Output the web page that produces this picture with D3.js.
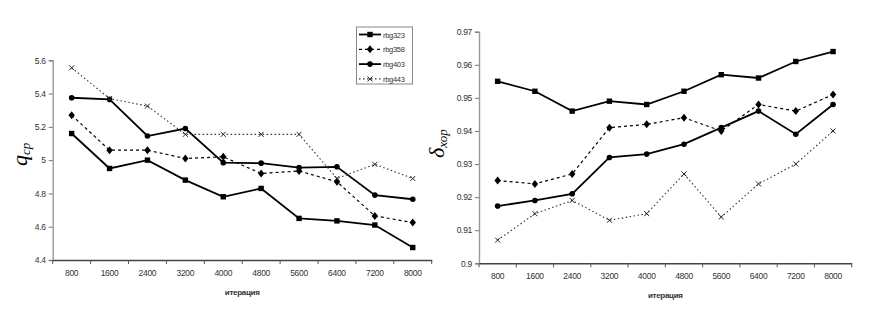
<!DOCTYPE html>
<html><head><meta charset="utf-8">
<script src="https://cdn.jsdelivr.net/npm/d3@7"></script>
<style>body{margin:0;background:#fff}svg{display:block}</style>
</head><body>
<svg id="c" width="872" height="327"></svg>
<script>
const categories = ["800","1600","2400","3200","4000","4800","5600","6400","7200","8000"];
const seriesNames = ["rbg323","rbg358","rbg403","rbg443"];
// left chart: q_ср
const qRbg323 = [5.16,4.95,5.00,4.88,4.78,4.83,4.65,4.635,4.61,4.475];
const qRbg358 = [5.27,5.06,5.06,5.01,5.02,4.92,4.935,4.87,4.665,4.625];
const qRbg403 = [5.375,5.365,5.145,5.19,4.985,4.982,4.955,4.96,4.79,4.765];
const qRbg443 = [5.555,5.37,5.325,5.155,5.155,5.155,5.155,4.89,4.975,4.89];
const qTicks = [4.4,4.6,4.8,5,5.2,5.4,5.6];
// right chart: δ_хор
const dRbg323 = [0.955,0.952,0.946,0.949,0.948,0.952,0.957,0.956,0.961,0.964];
const dRbg358 = [0.925,0.924,0.927,0.941,0.942,0.944,0.940,0.948,0.946,0.951];
const dRbg403 = [0.9173,0.919,0.921,0.932,0.933,0.936,0.941,0.946,0.939,0.948];
const dRbg443 = [0.907,0.915,0.919,0.913,0.915,0.927,0.914,0.924,0.930,0.940];
const dTicks = [0.9,0.91,0.92,0.93,0.94,0.95,0.96,0.97];

const styles = [
  {dash:null, w:1.8, color:"#000", marker:"square"},
  {dash:"3,3", w:1.2, color:"#000", marker:"diamond"},
  {dash:null, w:1.8, color:"#000", marker:"circle"},
  {dash:"1.5,2.5", w:1.1, color:"#333", marker:"x"}
];

const svg = d3.select("#c");
const font = "Arial, 'Liberation Sans', sans-serif";

function drawMarker(g, type, x, y){
  if(type==="square") g.append("rect").attr("x",x-2.7).attr("y",y-2.7).attr("width",5.4).attr("height",5.4).attr("fill","#000");
  else if(type==="diamond") g.append("path").attr("d",`M${x},${y-4}L${x+3.2},${y}L${x},${y+4}L${x-3.2},${y}Z`).attr("fill","#000");
  else if(type==="circle") g.append("circle").attr("cx",x).attr("cy",y).attr("r",2.8).attr("fill","#000");
  else g.append("path").attr("d",`M${x-2.5},${y-2.5}L${x+2.5},${y+2.5}M${x-2.5},${y+2.5}L${x+2.5},${y-2.5}`).attr("stroke","#222").attr("stroke-width",1).attr("fill","none");
}

function chart(cfg){
  const x = d3.scaleBand().domain(categories).range([cfg.x0,cfg.x1]);
  const y = d3.scaleLinear().domain(cfg.domain).range([cfg.yb,cfg.yt]);
  const g = svg.append("g");
  // y axis
  const ya = g.append("g").attr("transform",`translate(${cfg.x0},0)`)
    .call(d3.axisLeft(y).tickValues(cfg.ticks).tickSize(4).tickPadding(3).tickFormat(d=>String(+d.toFixed(3))));
  ya.select(".domain").attr("stroke","#999").attr("stroke-width",1.4);
  ya.selectAll(".tick line").attr("stroke","#777");
  ya.selectAll("text").attr("font-family",font).attr("font-size",8.5).attr("letter-spacing",-0.3).attr("fill","#333");
  // x axis
  const xa = g.append("g").attr("transform",`translate(0,${cfg.yb})`)
    .call(d3.axisBottom(x).tickSize(0).tickPadding(10));
  xa.select(".domain").attr("stroke","#444").attr("stroke-width",1.6);
  xa.selectAll("text").attr("font-family",font).attr("font-size",8.5).attr("letter-spacing",-0.3).attr("fill","#333");
  // tick marks between bands
  const bounds = categories.map(c=>x(c)).concat([cfg.x1]);
  g.selectAll(".bt").data(bounds).enter().append("line")
    .attr("x1",d=>d).attr("x2",d=>d).attr("y1",cfg.yb).attr("y2",cfg.yb+4).attr("stroke","#555");
  g.append("text").attr("x",(cfg.x0+cfg.x1)/2).attr("y",cfg.yb+35)
    .attr("text-anchor","middle").attr("font-family",font).attr("font-size",8).attr("letter-spacing",-0.3).attr("font-weight","bold").attr("fill","#333").text("итерация");
  // series
  cfg.series.forEach((vals,i)=>{
    const st = styles[i];
    const line = d3.line().x((d,j)=>x(categories[j])+x.bandwidth()/2).y(d=>y(d));
    g.append("path").datum(vals).attr("d",line).attr("fill","none")
      .attr("stroke",st.color).attr("stroke-width",st.w).attr("stroke-dasharray",st.dash);
    vals.forEach((v,j)=>drawMarker(g,st.marker,x(categories[j])+x.bandwidth()/2,y(v)));
  });
  // y title
  const t = g.append("text").attr("transform",`translate(${cfg.tx},${cfg.ty}) rotate(-90)`)
    .attr("font-family","'Times New Roman','Liberation Serif',serif").attr("font-style","italic").attr("fill","#000");
  t.append("tspan").attr("font-size",22).text(cfg.title[0]);
  t.append("tspan").attr("font-size",13).attr("dy",3).text(cfg.title[1]);
  return {x,y};
}

chart({x0:52.7,x1:431.7,yt:60.3,yb:260,domain:[4.4,5.6],ticks:qTicks,
  series:[qRbg323,qRbg358,qRbg403,qRbg443],title:["q","ср"],tx:27,ty:166});
chart({x0:479,x1:851.7,yt:31.7,yb:263.3,domain:[0.9,0.97],ticks:dTicks,
  series:[dRbg323,dRbg358,dRbg403,dRbg443],title:["δ","хор"],tx:444,ty:158});

// legend
const lg = svg.append("g");
lg.append("rect").attr("x",356.5).attr("y",27).attr("width",56).attr("height",57)
  .attr("fill","#fff").attr("stroke","#888").attr("stroke-width",1);
seriesNames.forEach((n,i)=>{
  const yy = 34.5 + i*14.8, st = styles[i];
  lg.append("line").attr("x1",359).attr("x2",381).attr("y1",yy).attr("y2",yy)
    .attr("stroke",st.color).attr("stroke-width",st.w).attr("stroke-dasharray",st.dash);
  drawMarker(lg,st.marker,370,yy);
  lg.append("text").attr("x",383).attr("y",yy+3).attr("font-family",font).attr("font-size",7.5).attr("letter-spacing",-0.3).attr("fill","#333").text(n);
});
</script>
</body></html>
